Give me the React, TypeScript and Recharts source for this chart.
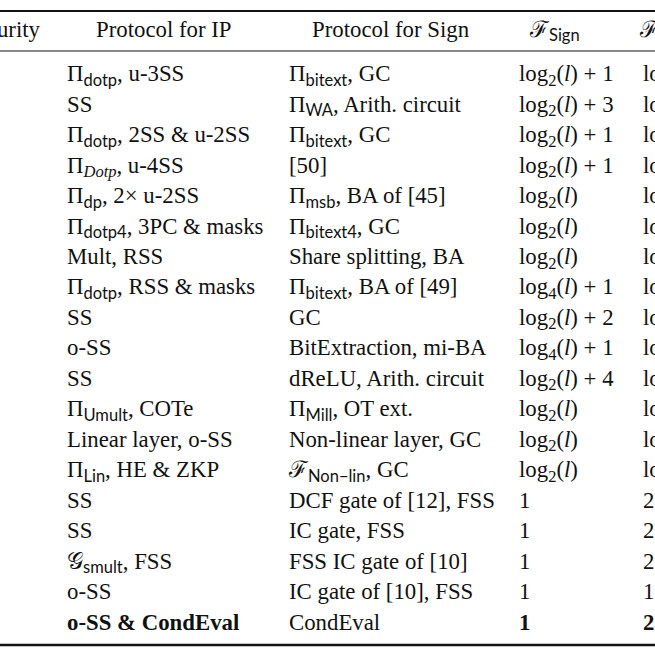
import React from 'react';
import { ScatterChart, Scatter, XAxis, YAxis, ReferenceLine } from 'recharts';

// ---- data (markup: _{x} sans subscript, _[x] serif subscript, _<x> italic subscript, |x| italic, leading ** = bold) ----
const headers = ['Security', 'Protocol for IP', 'Protocol for Sign', 'ℱ_{Sign}', 'ℱ_{IP}'];

const securityCol = ['', '', '', '', '', '', '', '', '', '', '', '', '', '', '', '', '', '', ''];

const ipProtocols = [
  'Π_{dotp}, u-3SS',
  'SS',
  'Π_{dotp}, 2SS & u-2SS',
  'Π_<Dotp>, u-4SS',
  'Π_{dp}, 2× u-2SS',
  'Π_{dotp4}, 3PC & masks',
  'Mult, RSS',
  'Π_{dotp}, RSS & masks',
  'SS',
  'o-SS',
  'SS',
  'Π_{Umult}, COTe',
  'Linear layer, o-SS',
  'Π_{Lin}, HE & ZKP',
  'SS',
  'SS',
  '𝒢_{smult}, FSS',
  'o-SS',
  '**o-SS & CondEval',
];

const signProtocols = [
  'Π_{bitext}, GC',
  'Π_{WA}, Arith. circuit',
  'Π_{bitext}, GC',
  '[50]',
  'Π_{msb}, BA of [45]',
  'Π_{bitext4}, GC',
  'Share splitting, BA',
  'Π_{bitext}, BA of [49]',
  'GC',
  'BitExtraction, mi-BA',
  'dReLU, Arith. circuit',
  'Π_{Mill}, OT ext.',
  'Non-linear layer, GC',
  'ℱ_{Non−lin}, GC',
  'DCF gate of [12], FSS',
  'IC gate, FSS',
  'FSS IC gate of [10]',
  'IC gate of [10], FSS',
  'CondEval',
];

const fSign = [
  'log_[2](|l|) + 1',
  'log_[2](|l|) + 3',
  'log_[2](|l|) + 1',
  'log_[2](|l|) + 1',
  'log_[2](|l|)',
  'log_[2](|l|)',
  'log_[2](|l|)',
  'log_[4](|l|) + 1',
  'log_[2](|l|) + 2',
  'log_[4](|l|) + 1',
  'log_[2](|l|) + 4',
  'log_[2](|l|)',
  'log_[2](|l|)',
  'log_[2](|l|)',
  '1',
  '1',
  '1',
  '1',
  '**1',
];

const fIP = [
  'log_[2](|l|)', 'log_[2](|l|)', 'log_[2](|l|)', 'log_[2](|l|)', 'log_[2](|l|)',
  'log_[2](|l|)', 'log_[2](|l|)', 'log_[2](|l|)', 'log_[2](|l|)', 'log_[2](|l|)',
  'log_[2](|l|)', 'log_[2](|l|)', 'log_[2](|l|)', 'log_[2](|l|)',
  '2', '2', '2', '1', '**2',
];

const columns = [securityCol, ipProtocols, signProtocols, fSign, fIP];

// ---- layout ----
const W = 655;
const H = 655;
const COL_X = [40, 67, 289, 519, 643];
const HEADER_X = [40, 96, 312, 530, 640];
const HEADER_ANCHOR = ['end', 'start', 'start', 'start', 'start'];
const HEADER_ROW = -0.443;
const Y_DOMAIN = [-1.656, 19.82];
const RULES = [
  { y: -1.295, w: 2.2 },
  { y: 0.016, w: 1 },
  { y: 19.49, w: 2.4 },
];
const SERIF = '"Liberation Serif", "DejaVu Serif", serif';
const SANS = 'Lato, "Open Sans", sans-serif';
const FONT_SIZE = 22.8;
const SUB_SIZE = 16.5;
const SUB_DY = 4.5;

type Seg = { t: string; kind: string };

function parse(s: string): Seg[] {
  const out: Seg[] = [];
  let buf = '';
  const flush = () => {
    if (buf) out.push({ t: buf, kind: 'n' });
    buf = '';
  };
  const closers: Record<string, [string, string]> = { '{': ['}', 'sub'], '[': [']', 'subs'], '<': ['>', 'subi'] };
  const chars = Array.from(s);
  let i = 0;
  while (i < chars.length) {
    const c = chars[i];
    if (c === '_' && closers[chars[i + 1]]) {
      const [close, kind] = closers[chars[i + 1]];
      let j = i + 2;
      let t = '';
      while (j < chars.length && chars[j] !== close) t += chars[j++];
      flush();
      out.push({ t, kind });
      i = j + 1;
    } else if (c === '|') {
      let j = i + 1;
      let t = '';
      while (j < chars.length && chars[j] !== '|') t += chars[j++];
      flush();
      out.push({ t, kind: 'it' });
      i = j + 1;
    } else {
      buf += c;
      i++;
    }
  }
  flush();
  return out;
}

function Rich({ x, y, text, anchor }: { x: number; y: number; text: string; anchor: string }) {
  let bold = false;
  let s = text;
  if (s.startsWith('**')) {
    bold = true;
    s = s.slice(2);
  }
  const segs = parse(s);
  let shift = 0;
  return (
    <text
      x={x}
      y={y}
      textAnchor={anchor as any}
      fontFamily={SERIF}
      fontSize={FONT_SIZE}
      fontWeight={bold ? 'bold' : 'normal'}
      fill="#111"
      style={{ whiteSpace: 'pre' }}
    >
      {segs.map((seg, k) => {
        const isSub = seg.kind.startsWith('sub');
        const target = isSub ? SUB_DY : 0;
        const dy = target - shift;
        shift = target;
        const fam = seg.kind === 'sub' ? SANS : SERIF;
        const size = isSub ? SUB_SIZE : FONT_SIZE;
        const italic = seg.kind === 'it' || seg.kind === 'subi';
        return (
          <tspan
            key={k}
            dy={dy !== 0 ? dy : undefined}
            fontFamily={fam}
            fontSize={size}
            fontStyle={italic ? 'italic' : 'normal'}
          >
            {seg.t}
          </tspan>
        );
      })}
    </text>
  );
}

const cells: { x: number; y: number; text: string; anchor: string }[] = [];
headers.forEach((h, c) => cells.push({ x: HEADER_X[c], y: HEADER_ROW, text: h, anchor: HEADER_ANCHOR[c] }));
columns.forEach((col, c) =>
  col.forEach((t, r) => {
    if (t) cells.push({ x: COL_X[c], y: r + 1, text: t, anchor: 'start' });
  })
);

const CellShape = (props: any) => {
  const { cx, cy, payload } = props;
  return <Rich x={cx} y={cy} text={payload.text} anchor={payload.anchor} />;
};

export default function App() {
  return (
    <div style={{ position: 'absolute', left: 0, top: 0, width: W, height: H, background: '#fff' }}>
      <ScatterChart width={W} height={H} margin={{ top: 0, right: 0, bottom: 0, left: 0 }}>
        <XAxis type="number" dataKey="x" domain={[0, W]} hide />
        <YAxis type="number" dataKey="y" domain={Y_DOMAIN} reversed hide allowDataOverflow />
        {RULES.map((r, i) => (
          <ReferenceLine key={i} y={r.y} stroke="#111" strokeWidth={r.w} ifOverflow="extendDomain" />
        ))}
        <Scatter data={cells} shape={CellShape} isAnimationActive={false} />
      </ScatterChart>
    </div>
  );
}
